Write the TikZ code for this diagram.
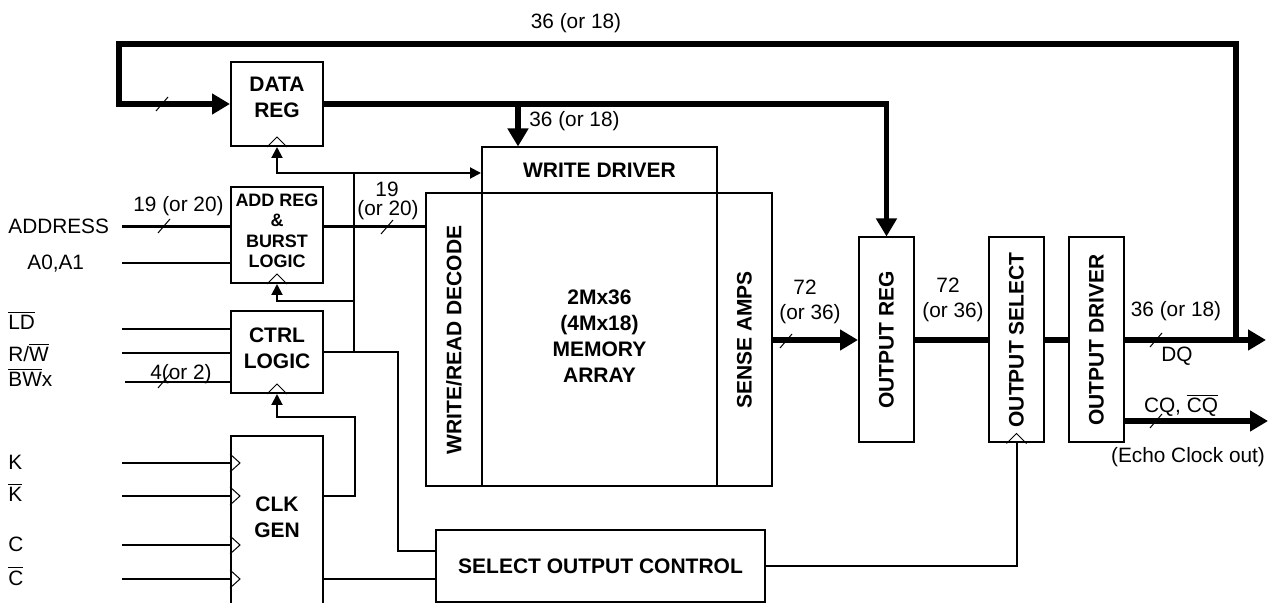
\documentclass[tikz,border=0pt]{standalone}
\usepackage{fontspec}
\setmainfont{Liberation Sans}
\usetikzlibrary{arrows.meta}
\newcommand{\buswidth}{2.8pt}
\newcommand{\wirewidth}{1pt}

\begin{document}
\begin{tikzpicture}[x=.5pt,y=-.5pt,
  blk/.style={draw, line width=1pt, inner sep=0pt, align=center,
    font=\fontsize{10.5}{13}\selectfont\bfseries},
  txt/.style={inner sep=0pt, font=\fontsize{10.4}{12}\selectfont},
  wire/.style={line width=\wirewidth},
  addr/.style={line width=1.5pt},
  bus/.style={line width=\buswidth},
  barrow/.style={-{Triangle[length=9pt,width=10pt]}},
  warrow/.style={-{Triangle[length=5.5pt,width=5.5pt]}},
  tri/.style={line width=.5pt}]

\useasboundingbox (0,0) rectangle (1279,603);

% blocks
\node (dreg) at (277,104) [blk, minimum width=46pt, minimum height=42pt] {};
\node (dregt) at (277,97) [blk, draw=none] {DATA\\REG};
\node (areg) at (277,235) [blk, minimum width=46pt, minimum height=48pt] {};
\node (aregt) at (277,231) [blk, draw=none,
  font=\fontsize{9}{10.25}\selectfont\bfseries] {ADD REG\\\&\\BURST\\LOGIC};
\node (ctrl) at (277,352) [blk, minimum width=46pt, minimum height=41pt] {};
\node (ctrlt) at (277,348) [blk, draw=none] {CTRL\\LOGIC};
\node (clk) at (277,528) [blk, minimum width=46pt, minimum height=92pt] {};
\node (clkt) at (277,517) [blk, draw=none] {CLK\\GEN};
\node (wdrv) at (599.5,170.5) [blk, minimum width=117.5pt, minimum height=23pt] {WRITE DRIVER};
\node (dec) at (454,340) [blk, minimum width=28pt, minimum height=146.5pt] {\rotatebox{90}{WRITE/READ DECODE}};
\node (mem) at (599.5,340) [blk, minimum width=117.5pt, minimum height=146.5pt] {};
\node (memt) at (599.5,336) [blk, draw=none] {2Mx36\\(4Mx18)\\MEMORY\\ARRAY};
\node (amp) at (744.5,340) [blk, minimum width=27.5pt, minimum height=146.5pt] {\rotatebox{90}{SENSE AMPS}};
\node (oreg) at (886.5,340) [blk, minimum width=27.5pt, minimum height=102.5pt] {\rotatebox{90}{OUTPUT REG}};
\node (osel) at (1016.5,340) [blk, minimum width=27.5pt, minimum height=102.5pt] {\rotatebox{90}{OUTPUT SELECT}};
\node (odrv) at (1096.5,340) [blk, minimum width=27.5pt, minimum height=102.5pt] {\rotatebox{90}{OUTPUT DRIVER}};
\node (soc) at (600.5,566) [blk, minimum width=164.5pt, minimum height=36pt] {SELECT OUTPUT CONTROL};

% clock marks
\foreach \n in {dreg,areg,ctrl,osel}
  \draw[tri] (\n.south) ++(-10,0) -- ++(10,-10) -- ++(10,10);

% inputs
\coordinate (inAddr) at (122,227);
\coordinate (inA) at (122,263);
\coordinate (inLd) at (122,329);
\coordinate (inRw) at (122,353);
\coordinate (inBw) at (125,382);
\coordinate (inK) at (122,463);
\coordinate (inKb) at (122,496);
\coordinate (inC) at (122,545);
\coordinate (inCb) at (122,579);

\foreach \c in {inK,inKb,inC,inCb}
  \draw[tri] (\c -| clk.west) ++(0,-9) -- ++(10,9) -- ++(-10,9);

\node (tAddr) at (8,234) [txt, anchor=base west] {ADDRESS};
\node (tA) at (27,270) [txt, anchor=base west] {A0,A1};
\node (tLd) at (8,330) [txt, anchor=base west] {$\overline{\mbox{LD}}$};
\node (tRw) at (8,362) [txt, anchor=base west] {R/$\overline{\mbox{W}}$};
\node (tBw) at (8,387) [txt, anchor=base west] {$\overline{\mbox{BW}}$x};
\node (tK) at (8,470) [txt, anchor=base west] {K};
\node (tKb) at (8,502) [txt, anchor=base west] {$\overline{\mbox{K}}$};
\node (tC) at (8,552) [txt, anchor=base west] {C};
\node (tCb) at (8,585) [txt, anchor=base west] {$\overline{\mbox{C}}$};

\draw[addr] (inAddr) -- (inAddr -| areg.west);
\draw[addr] (inAddr -| areg.east) -- (inAddr -| dec.west);
\draw[wire] (inA) -- (inA -| areg.west);
\foreach \c in {inLd,inRw,inBw}
  \draw[wire] (\c) -- (\c -| ctrl.west);
\foreach \c in {inK,inKb,inC,inCb}
  \draw[wire] (\c) -- (\c -| clk.west);

% data buses
\coordinate (loop) at (119,44);
\coordinate (fb) at (1236,340);
\coordinate (dq) at (1266,340);
\coordinate (cq) at (1268,421);
\coordinate (wtap) at (518,104);

\draw[bus,barrow] (fb) |- (loop) |- (dreg.west);
\draw[bus,barrow] (dreg.east) -| (oreg.north);
\draw[bus,barrow] (wtap) -- (wtap |- wdrv.north);
\draw[bus,barrow] (amp.east) -- (oreg.west);
\draw[bus] (oreg.east) -- (osel.west);
\draw[bus] (osel.east) -- (odrv.west);
\draw[bus,barrow] (odrv.east) -- (dq);
\draw[bus,barrow] (cq -| odrv.east) -- (cq);

% clocks and control
\coordinate (ck0) at (354,173);
\coordinate (ck1) at (354,352);
\coordinate (ck2) at (354,301);
\coordinate (soct) at (398,551);
\coordinate (kup) at (355,417);

\draw[wire] (ctrl.east) -| (soct) -- (soct -| soc.west);
\draw[wire,warrow] (ck1) -- (ck0) -- (ck0 -| wdrv.west);
\draw[wire,warrow] (ck0) -| (dreg.south);
\draw[wire,warrow] (ck2) -| (areg.south);
\draw[wire,warrow] (inKb -| clk.east) -| (kup) -| (ctrl.south);
\draw[wire] (inCb -| clk.east) -- (inCb -| soc.west);
\draw[wire] (soc.east) -| (osel.south);

% bus width marks
\foreach \x/\y in {162/104,164/226,387/227,164/381,786/341,1156/340,1156/421}
  \draw[tri] (\x-6,\y+7) -- (\x+6,\y-7);

% labels
\node (lTop) at (576,29) [txt, anchor=base] {36 (or 18)};
\node (lWd) at (529,127) [txt, anchor=base west] {36 (or 18)};
\node (lAddr) at (133,212) [txt, anchor=base west] {19 (or 20)};
\node (lDec1) at (387,197) [txt, anchor=base] {19};
\node (lDec2) at (388,216) [txt, anchor=base] {(or 20)};
\node (lBw) at (150,380) [txt, anchor=base west] {4(or 2)};
\node (lAmp1) at (805,295) [txt, anchor=base] {72};
\node (lAmp2) at (810,320) [txt, anchor=base] {(or 36)};
\node (lReg1) at (948,293) [txt, anchor=base] {72};
\node (lReg2) at (953,318) [txt, anchor=base] {(or 36)};
\node (lDq) at (1176,317) [txt, anchor=base] {36 (or 18)};
\node (lDq2) at (1177,362) [txt, anchor=base] {DQ};
\node (lCq) at (1181,413) [txt, anchor=base] {CQ, $\overline{\mbox{CQ}}$};
\node (lEcho) at (1188,463) [txt, anchor=base] {(Echo Clock out)};

\end{tikzpicture}
\end{document}
